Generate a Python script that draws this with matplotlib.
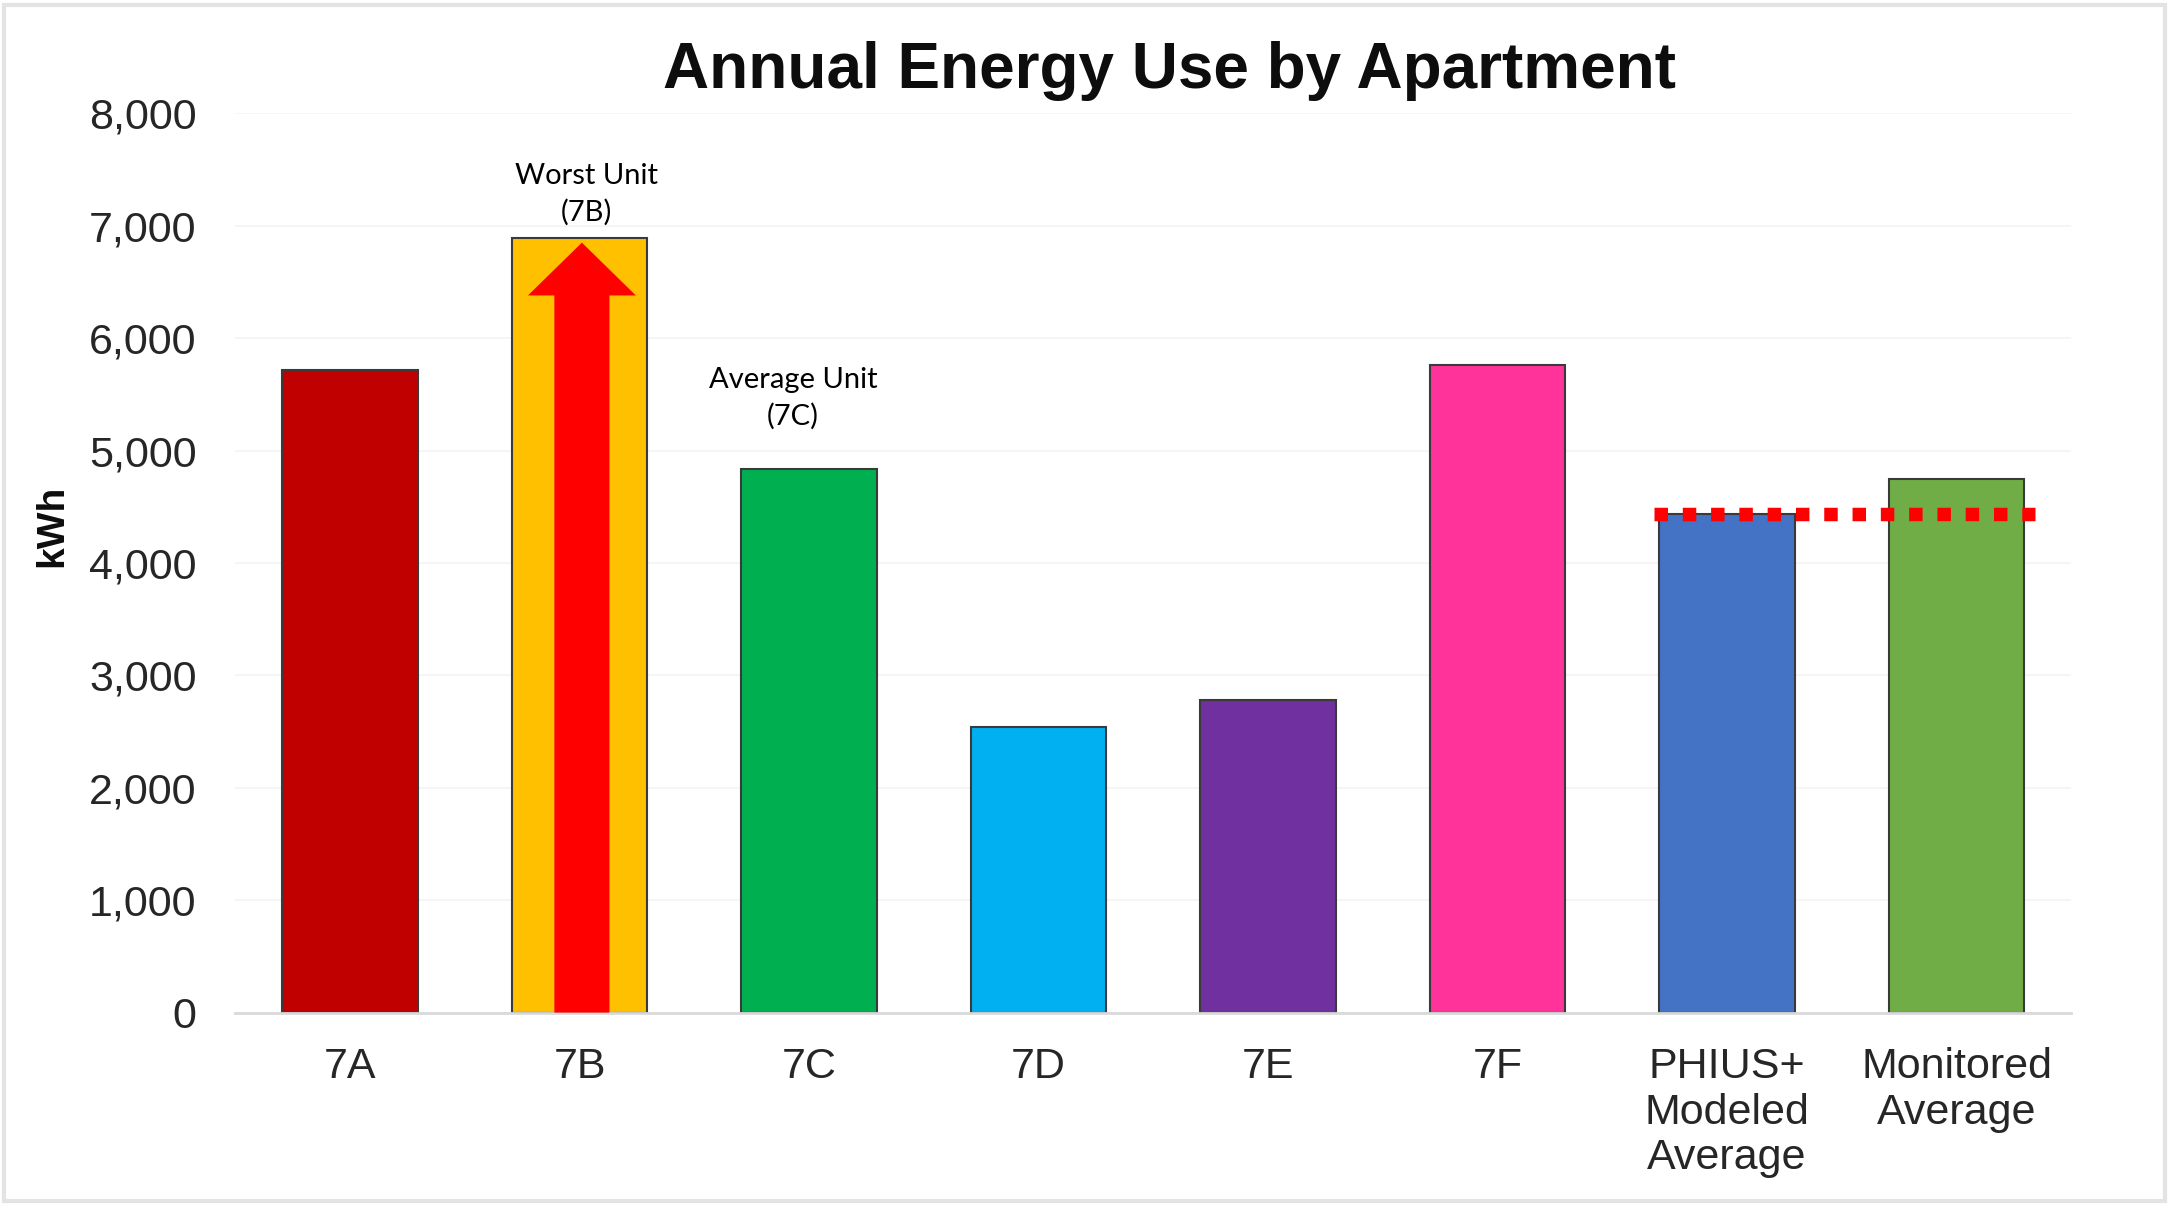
import numpy as np
import matplotlib
matplotlib.use("Agg")
from matplotlib import pyplot as plt
from matplotlib.patches import FancyArrow, Rectangle

# annual energy use per unit, kWh
units = ['7A', '7B', '7C', '7D', '7E', '7F', 'PHIUS+\nModeled\nAverage', 'Monitored\nAverage']
energy = [5720, 6890, 4840, 2540, 2780, 5760, 4440, 4750]
colors = ['#c00000', '#ffc000', '#00b050', '#00b0f0', '#7030a0', '#ff3399', '#4472c4', '#70ad47']
modeled_avg = energy[6]

worst_idx = 1
avg_idx = 2

plt.rcParams['font.family'] = ['Liberation Sans', 'DejaVu Sans']

fig = plt.figure(figsize=(21.69, 12.06), dpi=100)
fig.patches.append(Rectangle((0.002, 0.004), 0.996, 0.992, transform=fig.transFigure,
                             fill=False, edgecolor='#e3e3e3', linewidth=3))
ax = fig.add_axes([0.1085, 0.1604, 0.8465, 0.7456])

x = np.arange(len(units))
ax.bar(x, energy, width=0.59, color=colors, edgecolor='#3a3a3a', linewidth=1.5, zorder=2)

ax.set_xlim(-0.5, 7.5)
ax.set_ylim(0, 8000)
ax.set_yticks(np.arange(0, 8001, 1000))
ax.yaxis.set_major_formatter(matplotlib.ticker.StrMethodFormatter('{x:,.0f}'))
ax.set_xticks(x)
ax.set_xticklabels(units, linespacing=1.17)
ax.tick_params(axis='y', length=0, pad=28, labelsize=31, labelcolor='#262626')
ax.tick_params(axis='x', length=0, pad=25, labelsize=31, labelcolor='#262626')
for lab in ax.get_xticklabels():
    lab.set_verticalalignment('top')

ax.grid(axis='y', color='#f4f4f4', linewidth=1.2, zorder=0)
for s in ['top', 'right', 'left']:
    ax.spines[s].set_visible(False)
ax.spines['bottom'].set_color('#d9d9d9')
ax.spines['bottom'].set_linewidth(2)

# red arrow inside the worst unit's bar
arrow = FancyArrow(x[worst_idx] + 0.01, 0, 0, energy[worst_idx] - 40, width=0.24,
                   head_width=0.47, head_length=470, length_includes_head=True,
                   color='#ff0000', linewidth=0, zorder=3)
ax.add_patch(arrow)

# modeled average reference line
ax.plot([5.68, 7.34], [modeled_avg, modeled_avg], color='#ff0000', linewidth=9.7,
        linestyle=(0, (1, 1.1)), dash_capstyle='butt', zorder=4)

ax.text(x[worst_idx] + 0.03, energy[worst_idx] + 110, 'Worst Unit\n(7B)', ha='center', va='bottom',
        fontsize=21, family=['Lato', 'DejaVu Sans'], linespacing=1.45)
ax.text(x[avg_idx] - 0.07, energy[avg_idx] + 345, 'Average Unit\n(7C)', ha='center', va='bottom',
        fontsize=21, family=['Lato', 'DejaVu Sans'], linespacing=1.45)

fig.text(0.539, 0.941, 'Annual Energy Use by Apartment', ha='center', va='center',
         fontsize=46, fontweight='bold', color='#0d0d0d')
fig.text(0.0243, 0.564, 'kWh', rotation=90, ha='center', va='center',
         fontsize=28, fontweight='bold', color='#0d0d0d')

fig.savefig('out.png', dpi=100, facecolor='white')
